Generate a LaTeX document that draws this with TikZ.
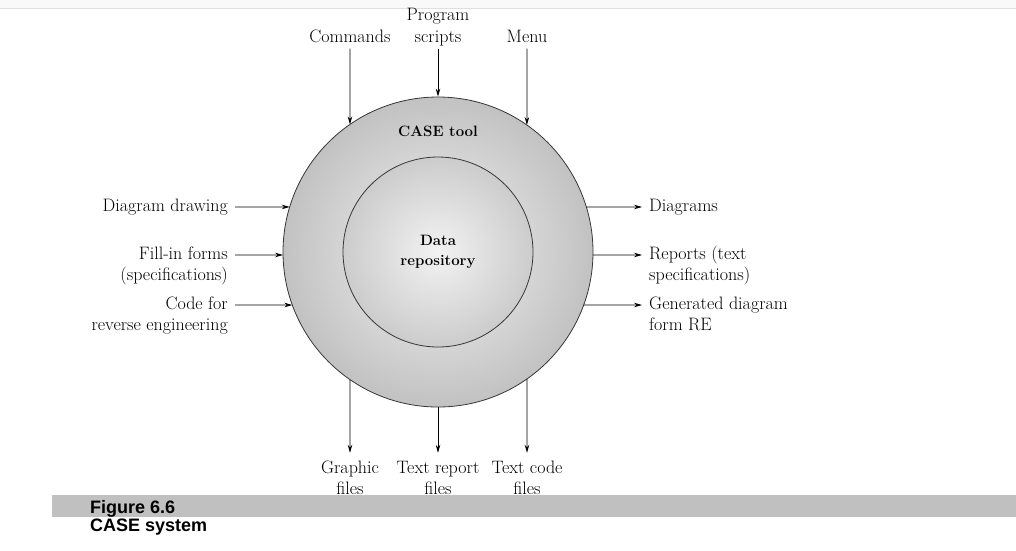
\documentclass[tikz,border=0pt]{standalone}
\usepackage{fontspec}
\usepackage{tikz}
\usetikzlibrary{arrows.meta,positioning,calc}
\newfontfamily\capfont{Liberation Sans}
\definecolor{bandgray}{RGB}{192,192,192}
\definecolor{rimgray}{RGB}{55,55,55}

\begin{document}
\begin{tikzpicture}[x=1pt, y=-1pt,
    lbl/.style={font=\fontsize{18}{21}\selectfont, inner xsep=7pt, inner ysep=2.5pt, text height=12pt, text depth=4pt},
    arr/.style={-{Stealth[length=8pt,width=4.5pt]}, line width=0.8pt},
    disk/.style={circle, draw=rimgray, line width=0.8pt, inner sep=0pt},
    capt/.style={font=\capfont\bfseries\fontsize{18}{20}\selectfont, anchor=base west, inner sep=0pt}
  ]
  \useasboundingbox (0,0) rectangle (1016,550);
  % page edge
  \fill[gray!5] (0,0) rectangle (1016,8);
  \draw[gray!25] (0,8) -- (1016,8);

  % tool and repository
  \node[disk, minimum size=310pt, inner color=gray!10, outer color=gray!48] (tool) at (438,252) {};
  \node[disk, minimum size=190pt, inner color=gray!10, outer color=gray!40, align=center,
    font=\fontsize{15}{20}\selectfont\bfseries] (repo) at (438,252) {Data\\repository};
  \node[font=\fontsize{15}{19}\selectfont\bfseries] (tooltitle) at (438,131) {CASE tool};

  % inputs on top
  \node[lbl] (cmd) at (350,38) {Commands};
  \node[lbl] (scripts) at (438,38) {scripts};
  \node[lbl, anchor=south] (prog) at (scripts.north) {Program};
  \node[lbl] (menu) at (527,38) {Menu};

  % inputs on the left
  \node[lbl, anchor=east] (ddraw) at (235,207) {Diagram drawing};
  \node[lbl, anchor=east] (forms) at (235,255) {Fill-in forms};
  \node[lbl, anchor=north east] (forms2) at (forms.south east) {(specifications)};
  \node[lbl, anchor=east] (code) at (235,305) {Code for};
  \node[lbl, anchor=north east] (code2) at (code.south east) {reverse engineering};

  % outputs on the right
  \node[lbl, anchor=west] (diag) at (642,207) {Diagrams};
  \node[lbl, anchor=west] (rep) at (642,255) {Reports (text};
  \node[lbl, anchor=north west] (rep2) at (rep.south west) {specifications)};
  \node[lbl, anchor=west] (gen) at (642,305) {Generated diagram};
  \node[lbl, anchor=north west] (gen2) at (gen.south west) {form RE};

  % outputs at the bottom
  \node[lbl] (graph) at (350,469) {Graphic};
  \node[lbl, anchor=north] (graph2) at (graph.south) {files};
  \node[lbl] (txtrep) at (438,469) {Text report};
  \node[lbl, anchor=north] (txtrep2) at (txtrep.south) {files};
  \node[lbl] (txtcode) at (527,469) {Text code};
  \node[lbl, anchor=north] (txtcode2) at (txtcode.south) {files};

  % arrows (points on the rim)
  \draw[arr] (cmd.south) -- ($(tool.center)+(124.6:155pt)$);
  \draw[arr] (scripts.south) -- (tool.north);
  \draw[arr] (menu.south) -- ($(tool.center)+(55:155pt)$);
  \draw[arr] (ddraw.east) -- ($(tool.center)+(163.1:155pt)$);
  \draw[arr] (forms.east) -- ($(tool.center)+(181.1:155pt)$);
  \draw[arr] (code.east) -- ($(tool.center)+(200:155pt)$);
  \draw[arr] ($(tool.center)+(16.9:155pt)$) -- (diag.west);
  \draw[arr] ($(tool.center)+(-1.1:155pt)$) -- (rep.west);
  \draw[arr] ($(tool.center)+(-20:155pt)$) -- (gen.west);
  \draw[arr, shorten >=5.5pt] ($(tool.center)+(235.4:155pt)$) -- (graph.north);
  \draw[arr, shorten >=5.5pt] (tool.south) -- (txtrep.north);
  \draw[arr, shorten >=5.5pt] ($(tool.center)+(305:155pt)$) -- (txtcode.north);

  % caption
  \fill[bandgray] (52,495) rectangle (1016,517);
  \node[capt] (fignum) at (90,513) {Figure 6.6};
  \node[capt] (figname) at (90,531) {CASE system};
\end{tikzpicture}
\end{document}
